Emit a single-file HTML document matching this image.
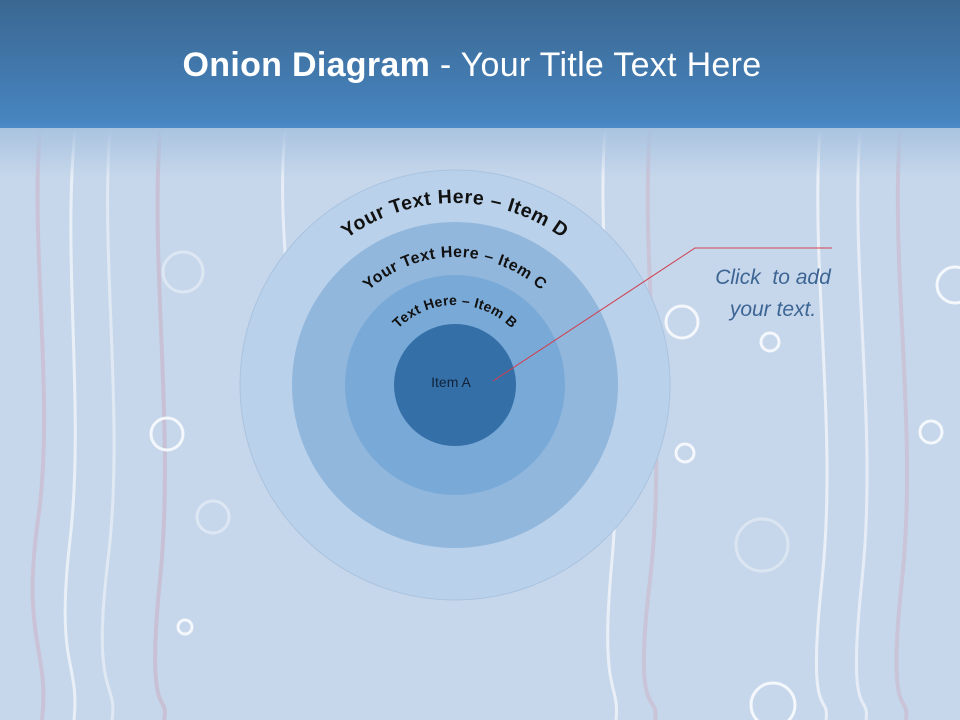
<!DOCTYPE html>
<html><head><meta charset="utf-8"><style>
html,body{margin:0;padding:0}
body{width:960px;height:720px;overflow:hidden;position:relative;font-family:"Liberation Sans",sans-serif;background:#c6d7eb}
#hdr{position:absolute;left:0;top:0;width:960px;height:128px;background:linear-gradient(#3a6791,#4785c0 95%,#4b8ac6)}
#fade{position:absolute;left:0;top:128px;width:960px;height:50px;background:linear-gradient(#a9c3e0,rgba(198,215,235,0))}
#title{position:absolute;left:0;width:944px;top:46px;text-align:center;color:#fff;font-size:34px;letter-spacing:0.3px}
#callout{position:absolute;left:698px;width:150px;top:262px;text-align:center;color:#3d6594;font-style:italic;font-size:21px;line-height:32px}
</style></head><body>
<svg width="960" height="720" style="position:absolute;left:0;top:0">
<g fill="none" stroke-width="4" opacity="0.8">
<path d="M40 130 C30 250 55 400 38 520 S50 650 42 720" stroke="#cbbfd4"/>
<path d="M75 130 C62 260 85 410 70 540 S80 660 74 720" stroke="#f2f6fb" stroke-width="3"/>
<path d="M110 130 C100 260 125 420 108 560 S118 680 112 720" stroke="#e6edf6" stroke-width="3"/>
<path d="M160 130 C150 270 175 430 160 580 S170 690 164 720" stroke="#c8bccf"/>
<path d="M285 130 C275 240 300 330 285 400" stroke="#eef3fa" stroke-width="3"/>
<path d="M605 130 C595 260 625 420 612 560 S620 680 616 720" stroke="#f3f6fb" stroke-width="3"/>
<path d="M650 130 C640 270 668 430 650 580 S660 690 655 720" stroke="#c9bfd3"/>
<path d="M820 130 C810 270 838 430 822 580 S830 690 826 720" stroke="#f3f6fb" stroke-width="3"/>
<path d="M860 130 C850 270 878 430 862 580 S870 690 866 720" stroke="#eef2f9" stroke-width="3"/>
<path d="M900 130 C890 270 918 430 902 580 S910 690 906 720" stroke="#c9bfd3"/>
</g>
<g fill="none" stroke="#f4f7fb" stroke-width="3">
<circle cx="167" cy="434" r="16"/><circle cx="183" cy="272" r="20" stroke="#dde7f3"/>
<circle cx="682" cy="322" r="16"/><circle cx="770" cy="342" r="9"/>
<circle cx="685" cy="453" r="9"/><circle cx="931" cy="432" r="11"/>
<circle cx="955" cy="285" r="18"/><circle cx="185" cy="627" r="7"/>
<circle cx="773" cy="705" r="22"/><circle cx="213" cy="517" r="16" stroke="#dde7f3"/>
<circle cx="762" cy="545" r="26" stroke="#dbe5f2"/>
</g>
<circle cx="455" cy="385" r="215" fill="#b9d1ea" stroke="#aac3df"/>
<circle cx="455" cy="385" r="163" fill="#92b7dd"/>
<circle cx="455" cy="385" r="110" fill="#79a9d7"/>
<circle cx="455" cy="385" r="61" fill="#346fa7"/>
<defs>
<path id="aD" d="M273 385 A182 182 0 0 1 637 385"/>
<path id="aC" d="M327 385 A128 128 0 0 1 583 385"/>
<path id="aB" d="M375 385 A80 80 0 0 1 535 385"/>
</defs>
<g font-family="Liberation Sans,sans-serif" font-weight="bold" fill="#111" text-anchor="middle">
<text font-size="19.5" letter-spacing="0.6"><textPath href="#aD" startOffset="50%">Your Text Here – Item D</textPath></text>
<text font-size="16" letter-spacing="0.5"><textPath href="#aC" startOffset="50%">Your Text Here – Item C</textPath></text>
<text font-size="14" letter-spacing="0.3"><textPath href="#aB" startOffset="50%">Text Here – Item B</textPath></text>
</g>
<text x="451" y="387" font-size="14" fill="#10233a" text-anchor="middle" font-family="Liberation Sans,sans-serif">Item A</text>
<polyline points="493,381 695,248 832,248" fill="none" stroke="#d0404f" stroke-width="1"/>
</svg>
<div id="hdr"></div><div id="fade"></div>
<div id="title"><b>Onion Diagram</b> - Your Title Text Here</div>
<div id="callout">Click &nbsp;to add your text.</div>
</body></html>
